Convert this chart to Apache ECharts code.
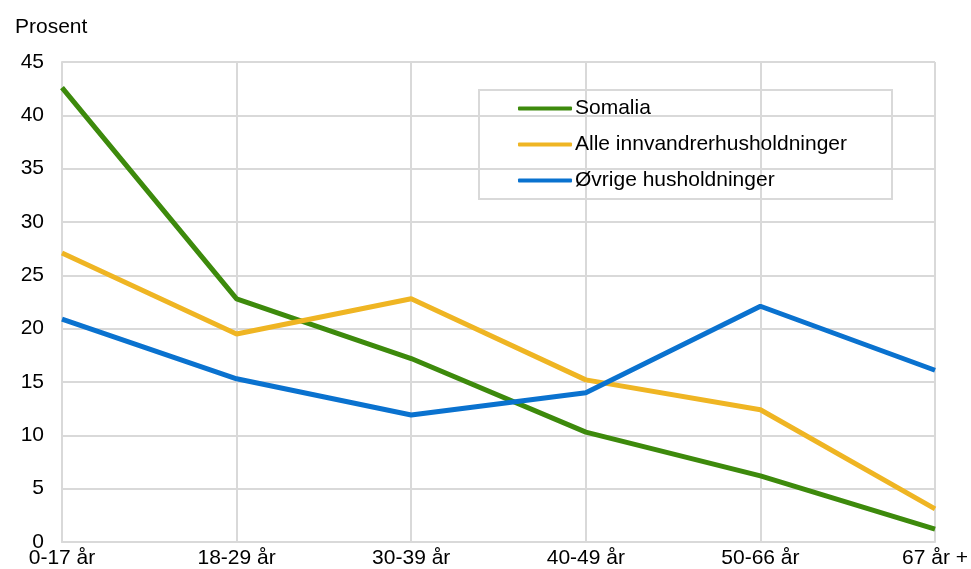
<!DOCTYPE html>
<html>
<head>
<meta charset="utf-8">
<script src="https://cdn.jsdelivr.net/npm/echarts@6/dist/echarts.min.js"></script>
<style>
  html, body { margin: 0; padding: 0; background: #fff; }
  #chart { width: 971px; height: 569px; }
</style>
</head>
<body>
<div id="chart"></div>
<script>
const categories = ['0-17 år', '18-29 år', '30-39 år', '40-49 år', '50-66 år', '67 år +'];
const somalia = [42.6, 22.8, 17.2, 10.3, 6.2, 1.2];
const alleInnvandrer = [27.1, 19.5, 22.8, 15.2, 12.4, 3.1];
const ovrige = [20.9, 15.3, 11.9, 14.0, 22.1, 16.1];

const font = 'Liberation Sans, Arial, sans-serif';
const gridColor = '#d9d9d9';

const chart = echarts.init(document.getElementById('chart'));
chart.setOption({
    animation: false,
    title: {
        text: 'Prosent',
        left: 10,
        top: 12,
        textStyle: { fontFamily: font, fontSize: 21, fontWeight: 'normal', color: '#000' }
    },
    legend: {
        orient: 'vertical',
        left: 479,
        top: 90,
        padding: [8, 45, 8, 39],
        itemGap: 15,
        itemWidth: 54,
        itemHeight: 4,
        icon: 'roundRect',
        borderColor: gridColor,
        borderWidth: 2,
        textStyle: { fontFamily: font, fontSize: 21, color: '#000', padding: [0, 0, 0, -2] },
        data: ['Somalia', 'Alle innvandrerhusholdninger', 'Øvrige husholdninger']
    },
    grid: { left: 62, right: 34, top: 62, bottom: 26, containLabel: false },
    xAxis: {
        type: 'category',
        boundaryGap: false,
        data: categories,
        axisTick: { show: false },
        axisLine: { lineStyle: { color: gridColor, width: 2 } },
        splitLine: { show: true, lineStyle: { color: gridColor, width: 2 } },
        axisLabel: { fontFamily: font, fontSize: 21, color: '#000', margin: 6 }
    },
    yAxis: {
        type: 'value',
        min: 0,
        max: 45,
        interval: 5,
        axisTick: { show: false },
        axisLine: { show: true, lineStyle: { color: gridColor, width: 2 } },
        splitLine: { lineStyle: { color: gridColor, width: 2 } },
        axisLabel: { fontFamily: font, fontSize: 21, color: '#000', margin: 18 }
    },
    series: [
        {
            name: 'Somalia',
            type: 'line',
            data: somalia,
            symbol: 'none',
            lineStyle: { width: 5, color: '#3d8a0c' },
            itemStyle: { color: '#3d8a0c' }
        },
        {
            name: 'Alle innvandrerhusholdninger',
            type: 'line',
            data: alleInnvandrer,
            symbol: 'none',
            lineStyle: { width: 5, color: '#efb523' },
            itemStyle: { color: '#efb523' }
        },
        {
            name: 'Øvrige husholdninger',
            type: 'line',
            data: ovrige,
            symbol: 'none',
            lineStyle: { width: 5, color: '#0a72cf' },
            itemStyle: { color: '#0a72cf' }
        }
    ]
});
</script>
</body>
</html>
